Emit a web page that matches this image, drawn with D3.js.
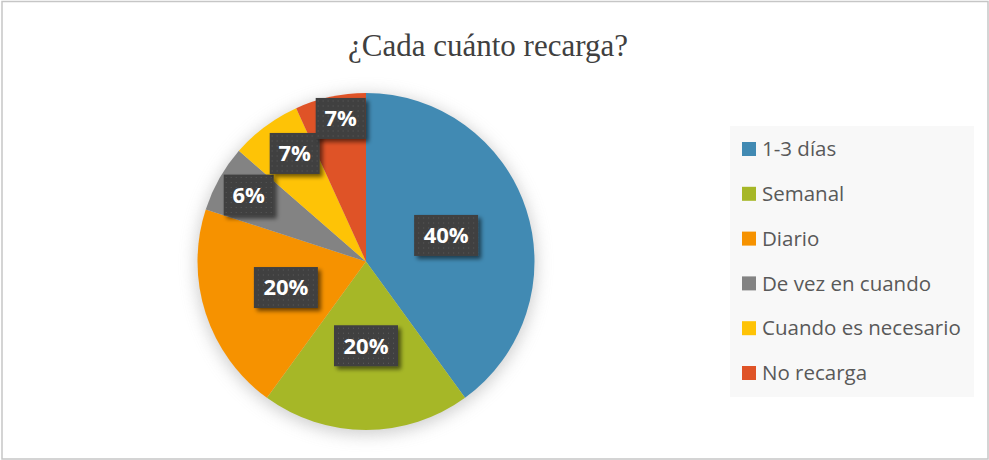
<!DOCTYPE html>
<meta charset="utf-8">
<style>
body { margin: 0; background: #fff; }
svg { display: block; }
.title { font-family: "Liberation Serif", "Times New Roman", serif; font-size: 31px; fill: #404040; }
.lbl { font-family: "Open Sans", sans-serif; font-weight: bold; font-size: 22px; fill: #fff; }
.legend text { font-family: "Open Sans", sans-serif; font-size: 20.5px; fill: #595959; }
</style>
<body>
<script src="https://d3js.org/d3.v7.min.js"></script>
<script>
// data
var categories = ["1-3 días", "Semanal", "Diario", "De vez en cuando", "Cuando es necesario", "No recarga"];
var values = [40, 20, 20, 6.4, 6.8, 6.8];
var colors = ["#418ab3", "#a6b727", "#f69200", "#838383", "#fec306", "#df5327"];

var W = 989, H = 460;
var cx = 366, cy = 261.5, r = 168.5;

var svg = d3.select("body").append("svg")
    .attr("width", W)
    .attr("height", H);

var defs = svg.append("defs");

// soft glow behind the pie
var glow = defs.append("filter").attr("id", "glow")
    .attr("x", "-20%").attr("y", "-20%").attr("width", "140%").attr("height", "140%");
glow.append("feGaussianBlur").attr("stdDeviation", 8);

// label box shadow
var sh = defs.append("filter").attr("id", "boxshadow")
    .attr("x", "-30%").attr("y", "-30%").attr("width", "160%").attr("height", "160%");
sh.append("feGaussianBlur").attr("in", "SourceAlpha").attr("stdDeviation", 2).attr("result", "b");
sh.append("feOffset").attr("in", "b").attr("dx", 3).attr("dy", 3).attr("result", "o");
sh.append("feComponentTransfer").attr("in", "o").attr("result", "o2")
  .append("feFuncA").attr("type", "linear").attr("slope", 0.55);
var mg = sh.append("feMerge");
mg.append("feMergeNode").attr("in", "o2");
mg.append("feMergeNode").attr("in", "SourceGraphic");

// dotted texture for label boxes
var pat = defs.append("pattern").attr("id", "dots")
    .attr("width", 5).attr("height", 5).attr("patternUnits", "userSpaceOnUse");
pat.append("rect").attr("width", 5).attr("height", 5).attr("fill", "#404040");
pat.append("rect").attr("x", 2).attr("y", 2).attr("width", 1).attr("height", 1).attr("fill", "#5a5a5a");

// outer border
svg.append("rect")
    .attr("x", 2).attr("y", 1.5)
    .attr("width", 986).attr("height", 457.5)
    .attr("fill", "#fff")
    .attr("stroke", "#c6c6c6")
    .attr("stroke-width", 1.5);

svg.append("text")
    .attr("class", "title")
    .attr("x", 488).attr("y", 56)
    .attr("text-anchor", "middle")
    .text("¿Cada cuánto recarga?");

var total = d3.sum(values);
var data = categories.map(function(c, i) { return {name: c, value: values[i], color: colors[i]}; });

var pie = d3.pie().sort(null).value(function(d) { return d.value; });
var arc = d3.arc().innerRadius(0).outerRadius(r);
var arcs = pie(data);

var g = svg.append("g").attr("transform", "translate(" + cx + "," + cy + ")");

g.append("circle")
    .attr("r", r + 2)
    .attr("cy", 3)
    .attr("fill", "#b0b0b0")
    .attr("opacity", 0.6)
    .attr("filter", "url(#glow)");

g.selectAll("path.slice")
    .data(arcs)
    .enter().append("path")
    .attr("class", "slice")
    .attr("d", arc)
    .attr("fill", function(d) { return d.data.color; });

// labels: big slices at half radius, small ones pushed outward,
// then nudged so neighbouring boxes do not sit on top of each other
var fmt = d3.format(".0%");
var pos = arcs.map(function(d) {
  var k = (d.endAngle - d.startAngle) > 1 ? 0.5 : 0.8;
  var a = (d.startAngle + d.endAngle) / 2;
  return [Math.sin(a) * r * k, -Math.cos(a) * r * k];
});
for (var i = 1; i < pos.length; i++) {
  var small = (arcs[i].endAngle - arcs[i].startAngle) <= 1;
  var prevSmall = (arcs[i - 1].endAngle - arcs[i - 1].startAngle) <= 1;
  if (small && prevSmall) {
    // keep the stair-step look: shift right/down of the previous box corner
    var dx = pos[i][0] - pos[i - 1][0], dy = pos[i][1] - pos[i - 1][1];
    if (dx < 45) pos[i][0] = pos[i - 1][0] + 46;
    if (dy > -34) pos[i][1] = pos[i - 1][1] - 35;
  }
}

var lab = g.selectAll("g.lab")
    .data(arcs)
    .enter().append("g")
    .attr("class", "lab")
    .attr("transform", function(d, i) { return "translate(" + pos[i][0] + "," + pos[i][1] + ")"; });

lab.each(function(d) {
  var s = d3.select(this);
  var t = fmt(d.data.value / total);
  var w = t.length > 2 ? 64 : 50, h = 41;
  s.append("rect")
    .attr("x", -w / 2).attr("y", -h / 2)
    .attr("width", w).attr("height", h)
    .attr("fill", "url(#dots)")
    .attr("filter", "url(#boxshadow)");
  s.append("text")
    .attr("class", "lbl")
    .attr("text-anchor", "middle")
    .attr("dy", "0.36em")
    .text(t);
});

// legend
var leg = svg.append("g").attr("class", "legend");
leg.append("rect")
    .attr("x", 730).attr("y", 126)
    .attr("width", 244).attr("height", 271)
    .attr("fill", "#f8f8f8");

var ly = d3.scalePoint().domain(categories).range([149, 373]);
var item = leg.selectAll("g.item")
    .data(data)
    .enter().append("g")
    .attr("class", "item")
    .attr("transform", function(d) { return "translate(742," + ly(d.name) + ")"; });
item.append("rect")
    .attr("x", 0).attr("y", -7)
    .attr("width", 14).attr("height", 14)
    .attr("fill", function(d) { return d.color; });
item.append("text")
    .attr("x", 20)
    .attr("dy", "0.35em")
    .text(function(d) { return d.name; });
</script>
</body>
